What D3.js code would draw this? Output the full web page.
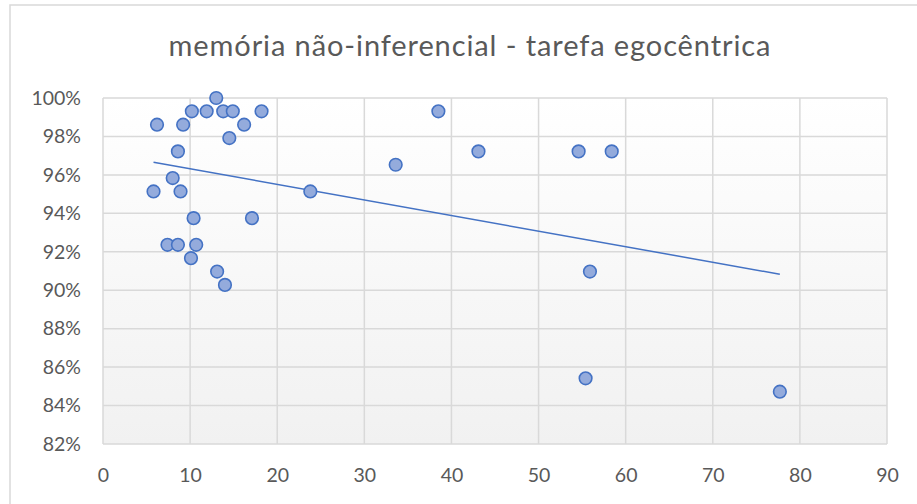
<!DOCTYPE html>
<html>
<head>
<meta charset="utf-8">
<script src="https://cdn.jsdelivr.net/npm/d3@7"></script>
<style>
  body { margin: 0; background: #fff; }
  svg text { font-family: Lato, "Open Sans", sans-serif; fill: #595959; }
</style>
</head>
<body>
<div id="chart"></div>
<script>
// data (x = score, y = proportion correct)
var title = "memória não-inferencial - tarefa egocêntrica";
var xValues = [13.0, 10.2, 11.9, 13.8, 14.9, 18.2, 38.5, 6.2, 9.2, 16.2,
  14.5, 8.6, 43.1, 54.6, 58.4, 33.6, 8.0, 5.8, 8.9, 23.8,
  10.4, 17.1, 7.4, 8.6, 10.7, 10.1, 13.1, 55.9, 14.0, 55.4, 77.7];
var yValues = [144, 143, 143, 143, 143, 143, 143, 142, 142, 142,
  141, 140, 140, 140, 140, 139, 138, 137, 137, 137,
  135, 135, 133, 133, 133, 132, 131, 131, 130, 123, 122].map(function(v) { return v / 144; });
var xTicks = [0, 10, 20, 30, 40, 50, 60, 70, 80, 90];
var yTicks = [0.82, 0.84, 0.86, 0.88, 0.90, 0.92, 0.94, 0.96, 0.98, 1.00];

var width = 917, height = 504;
var margin = {left: 103, right: 30, top: 98, bottom: 60};
var fillColor = "#94ABDC";
var strokeColor = "#4472C4";
var gridColor = "#d9d9d9";

var svg = d3.select("#chart").append("svg")
  .attr("width", width)
  .attr("height", height);

var defs = svg.append("defs");
var grad = defs.append("linearGradient").attr("id", "plotBg")
  .attr("x1", 0).attr("y1", 0).attr("x2", 0).attr("y2", 1);
grad.append("stop").attr("offset", "0%").attr("stop-color", "#ffffff");
grad.append("stop").attr("offset", "100%").attr("stop-color", "#f1f1f1");

// chart border
svg.append("rect")
  .attr("x", 10).attr("y", 5)
  .attr("width", width + 20).attr("height", height + 20)
  .attr("fill", "none")
  .attr("stroke", gridColor)
  .attr("stroke-width", 1.5);

var x = d3.scaleLinear().domain([0, 90]).range([margin.left, width - margin.right]);
var y = d3.scaleLinear().domain([0.82, 1.0]).range([height - margin.bottom, margin.top]);

svg.append("rect")
  .attr("x", x(0)).attr("y", y(1))
  .attr("width", x(90) - x(0)).attr("height", y(0.82) - y(1))
  .attr("fill", "url(#plotBg)");

// gridlines
svg.append("g").selectAll("line").data(yTicks).join("line")
  .attr("x1", x(0)).attr("x2", x(90))
  .attr("y1", function(d) { return y(d); }).attr("y2", function(d) { return y(d); })
  .attr("stroke", gridColor).attr("stroke-width", 1.5);

svg.append("g").selectAll("line").data(xTicks).join("line")
  .attr("y1", y(0.82)).attr("y2", y(1))
  .attr("x1", function(d) { return x(d); }).attr("x2", function(d) { return x(d); })
  .attr("stroke", gridColor).attr("stroke-width", 1.5);

// axes labels
var yAxis = d3.axisLeft(y).tickValues(yTicks).tickSize(0).tickPadding(22)
  .tickFormat(d3.format(".0%"));
var gy = svg.append("g").attr("transform", "translate(" + x(0) + ",0)").call(yAxis);
gy.select(".domain").remove();
gy.selectAll("text").style("font-size", "19.5px").attr("fill", "#595959");

var xAxis = d3.axisBottom(x).tickValues(xTicks).tickSize(0).tickPadding(24);
var gx = svg.append("g").attr("transform", "translate(0," + y(0.82) + ")").call(xAxis);
gx.select(".domain").remove();
gx.selectAll("text").style("font-size", "19.5px").attr("fill", "#595959");

// title
svg.append("text")
  .attr("x", 470).attr("y", 56)
  .attr("text-anchor", "middle")
  .style("font-size", "29px")
  .style("letter-spacing", "0.9px")
  .text(title);

// trendline (least squares fit of the points)
var n = xValues.length;
var mx = d3.mean(xValues), my = d3.mean(yValues);
var sxy = 0, sxx = 0;
for (var i = 0; i < n; i++) {
  sxy += (xValues[i] - mx) * (yValues[i] - my);
  sxx += (xValues[i] - mx) * (xValues[i] - mx);
}
var slope = sxy / sxx, intercept = my - slope * mx;
var xExt = d3.extent(xValues);
svg.append("line")
  .attr("x1", x(xExt[0])).attr("y1", y(intercept + slope * xExt[0]))
  .attr("x2", x(xExt[1])).attr("y2", y(intercept + slope * xExt[1]))
  .attr("stroke", strokeColor).attr("stroke-width", 1.5);

// points
var points = d3.range(n).map(function(i) { return {x: xValues[i], y: yValues[i]}; });
svg.append("g").selectAll("circle").data(points).join("circle")
  .attr("cx", function(d) { return x(d.x); })
  .attr("cy", function(d) { return y(d.y); })
  .attr("r", 6.3)
  .attr("fill", fillColor)
  .attr("stroke", strokeColor)
  .attr("stroke-width", 1.6);
</script>
</body>
</html>
